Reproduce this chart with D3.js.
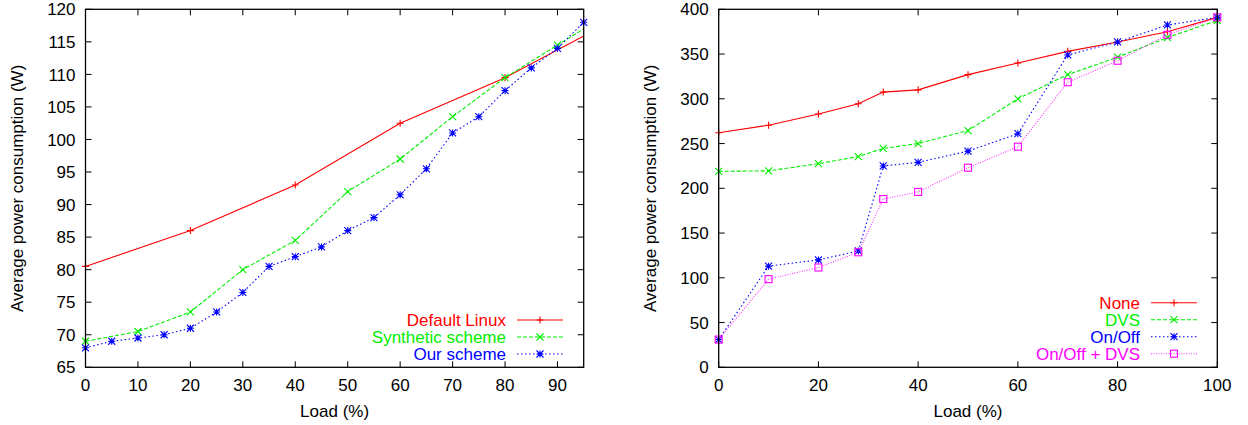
<!DOCTYPE html>
<html>
<head>
<meta charset="utf-8">
<script src="https://cdn.jsdelivr.net/npm/d3@7"></script>
<style>
  body { margin: 0; background: #fff; }
  svg { display: block; font-family: "Liberation Sans", Arial, sans-serif; }
</style>
</head>
<body>
<svg width="1248" height="425"></svg>
<script>
// left panel data
const linuxLoad = [0, 20, 40, 60, 80, 100];
const linuxPower = [80.5, 86, 93, 102.5, 109.5, 118];
const syntheticLoad = [0, 10, 20, 30, 40, 50, 60, 70, 80, 90, 100];
const syntheticPower = [69, 70.5, 73.5, 80, 84.5, 92, 97, 103.5, 109.5, 114.5, 119.5];
const ourLoad = [0, 5, 10, 15, 20, 25, 30, 35, 40, 45, 50, 55, 60, 65, 70, 75, 80, 85, 90, 95];
const ourPower = [68, 69, 69.5, 70, 71, 73.5, 76.5, 80.5, 82, 83.5, 86, 88, 91.5, 95.5, 101, 103.5, 107.5, 111, 114, 118];
const leftXTicks = [0, 10, 20, 30, 40, 50, 60, 70, 80, 90];
const leftYTicks = [65, 70, 75, 80, 85, 90, 95, 100, 105, 110, 115, 120];

// right panel data
const rightLoad = [0, 10, 20, 28, 33, 40, 50, 60, 70, 80, 90, 100];
const nonePower = [262, 270.5, 283, 294.5, 307.5, 310, 327, 340, 353, 363.5, 375, 391];
const dvsPower = [219, 219.5, 227.5, 235.5, 244.5, 250, 264.5, 300, 327, 346.5, 368.5, 387.5];
const onOffPower = [31, 113, 120, 130, 225, 229, 241.5, 261, 349, 363.5, 382.5, 391];
const onOffDvsPower = [31, 98.5, 111.5, 128.5, 188, 196, 223, 246.5, 318.5, 342.5, 371.5, 391];
const rightXTicks = [0, 20, 40, 60, 80, 100];
const rightYTicks = [0, 50, 100, 150, 200, 250, 300, 350, 400];

var svg = d3.select('svg');
var fs = 17;

// gnuplot-like point types
function marker(sel, type, color) {
  var s = 3.5;
  if (type === 'plus') {
    sel.append('path').attr('d', `M${-s},0H${s}M0,${-s}V${s}`);
  } else if (type === 'cross') {
    sel.append('path').attr('d', `M${-s},${-s}L${s},${s}M${-s},${s}L${s},${-s}`);
  } else if (type === 'star') {
    sel.append('path').attr('d', `M${-s},0H${s}M0,${-s}V${s}M${-s},${-s}L${s},${s}M${-s},${s}L${s},${-s}`);
  } else if (type === 'square') {
    sel.append('rect').attr('x', -s).attr('y', -s).attr('width', 2 * s).attr('height', 2 * s).attr('fill', 'none');
  }
  sel.selectAll('path, rect').attr('stroke', color).attr('stroke-width', 1.1);
}

function panel(cfg) {
  var g = svg.append('g');
  var x = d3.scaleLinear().domain(cfg.xDomain).range([cfg.left, cfg.right]);
  var y = d3.scaleLinear().domain(cfg.yDomain).range([cfg.bottom, cfg.top]);

  var clipId = 'clip' + cfg.id;
  svg.append('clipPath').attr('id', clipId)
    .append('rect')
    .attr('x', cfg.left).attr('y', cfg.top)
    .attr('width', cfg.right - cfg.left).attr('height', cfg.bottom - cfg.top);

  // ticks, inward on all four sides
  var tl = 6;
  cfg.xTicks.forEach(function(t) {
    g.append('line').attr('x1', x(t)).attr('x2', x(t)).attr('y1', cfg.bottom).attr('y2', cfg.bottom - tl).attr('stroke', '#000');
    g.append('line').attr('x1', x(t)).attr('x2', x(t)).attr('y1', cfg.top).attr('y2', cfg.top + tl).attr('stroke', '#000');
    g.append('text').attr('x', x(t)).attr('y', cfg.bottom + 24)
      .attr('text-anchor', 'middle').attr('font-size', fs).attr('fill', '#000').text(t);
  });
  cfg.yTicks.forEach(function(t) {
    g.append('line').attr('x1', cfg.left).attr('x2', cfg.left + tl).attr('y1', y(t)).attr('y2', y(t)).attr('stroke', '#000');
    g.append('line').attr('x1', cfg.right).attr('x2', cfg.right - tl).attr('y1', y(t)).attr('y2', y(t)).attr('stroke', '#000');
    g.append('text').attr('x', cfg.left - 10).attr('y', y(t)).attr('dy', '0.36em')
      .attr('text-anchor', 'end').attr('font-size', fs).attr('fill', '#000').text(t);
  });

  // series
  var line = d3.line().x(d => x(d[0])).y(d => y(d[1]));
  cfg.series.forEach(function(s) {
    var pts = s.load.map((l, i) => [l, s.power[i]]);
    g.append('path').datum(pts)
      .attr('clip-path', 'url(#' + clipId + ')')
      .attr('d', line)
      .attr('fill', 'none')
      .attr('stroke', s.color)
      .attr('stroke-opacity', s.opacity || 1)
      .attr('stroke-width', 1.1)
      .attr('stroke-dasharray', s.dash);
    pts.filter(p => p[0] >= cfg.xDomain[0] && p[0] <= cfg.xDomain[1]).forEach(function(p) {
      var m = g.append('g').attr('transform', `translate(${x(p[0])},${y(p[1])})`);
      marker(m, s.marker, s.color);
    });
  });

  // border
  g.append('rect')
    .attr('x', cfg.left).attr('y', cfg.top)
    .attr('width', cfg.right - cfg.left).attr('height', cfg.bottom - cfg.top)
    .attr('fill', 'none').attr('stroke', '#000').attr('stroke-width', 1.3);

  // axis titles
  g.append('text')
    .attr('transform', `translate(${cfg.left - 63},${(cfg.top + cfg.bottom) / 2}) rotate(-90)`)
    .attr('text-anchor', 'middle').attr('font-size', fs).attr('fill', '#000')
    .text('Average power consumption (W)');
  g.append('text')
    .attr('x', (cfg.left + cfg.right) / 2).attr('y', cfg.bottom + 50)
    .attr('text-anchor', 'middle').attr('font-size', fs).attr('fill', '#000')
    .text('Load (%)');

  // legend
  cfg.series.forEach(function(s, i) {
    var ly = cfg.legendY + i * 17;
    g.append('text').attr('x', cfg.legendX).attr('y', ly).attr('dy', '0.36em')
      .attr('text-anchor', 'end').attr('font-size', fs).attr('fill', s.color).text(s.name);
    g.append('line')
      .attr('x1', cfg.legendX + 11).attr('x2', cfg.legendX + 57)
      .attr('y1', ly).attr('y2', ly)
      .attr('stroke', s.color).attr('stroke-opacity', s.opacity || 1)
      .attr('stroke-width', 1.1).attr('stroke-dasharray', s.dash);
    var m = g.append('g').attr('transform', `translate(${cfg.legendX + 34},${ly})`);
    marker(m, s.marker, s.color);
  });
}

panel({
  id: 'L',
  left: 85.5, right: 583.7, top: 9.3, bottom: 367.3,
  xDomain: [0, 95], yDomain: [65, 120],
  xTicks: leftXTicks, yTicks: leftYTicks,
  legendX: 506, legendY: 320,
  series: [
    {name: 'Default Linux', load: linuxLoad, power: linuxPower, color: '#ff0000', dash: null, marker: 'plus'},
    {name: 'Synthetic scheme', load: syntheticLoad, power: syntheticPower, color: '#00ee00', dash: '4,2', marker: 'cross'},
    {name: 'Our scheme', load: ourLoad, power: ourPower, color: '#0000ff', dash: '1.5,2.5', marker: 'star'}
  ]
});

panel({
  id: 'R',
  left: 718.7, right: 1217.3, top: 9.3, bottom: 367.3,
  xDomain: [0, 100], yDomain: [0, 400],
  xTicks: rightXTicks, yTicks: rightYTicks,
  legendX: 1140, legendY: 302.7,
  series: [
    {name: 'None', load: rightLoad, power: nonePower, color: '#ff0000', dash: null, marker: 'plus'},
    {name: 'DVS', load: rightLoad, power: dvsPower, color: '#00ee00', dash: '4,2', marker: 'cross'},
    {name: 'On/Off', load: rightLoad, power: onOffPower, color: '#0000ff', dash: '1.5,2.5', marker: 'star'},
    {name: 'On/Off + DVS', load: rightLoad, power: onOffDvsPower, color: '#ff00ff', dash: '1,1.5', marker: 'square', opacity: 0.8}
  ]
});
</script>
</body>
</html>
